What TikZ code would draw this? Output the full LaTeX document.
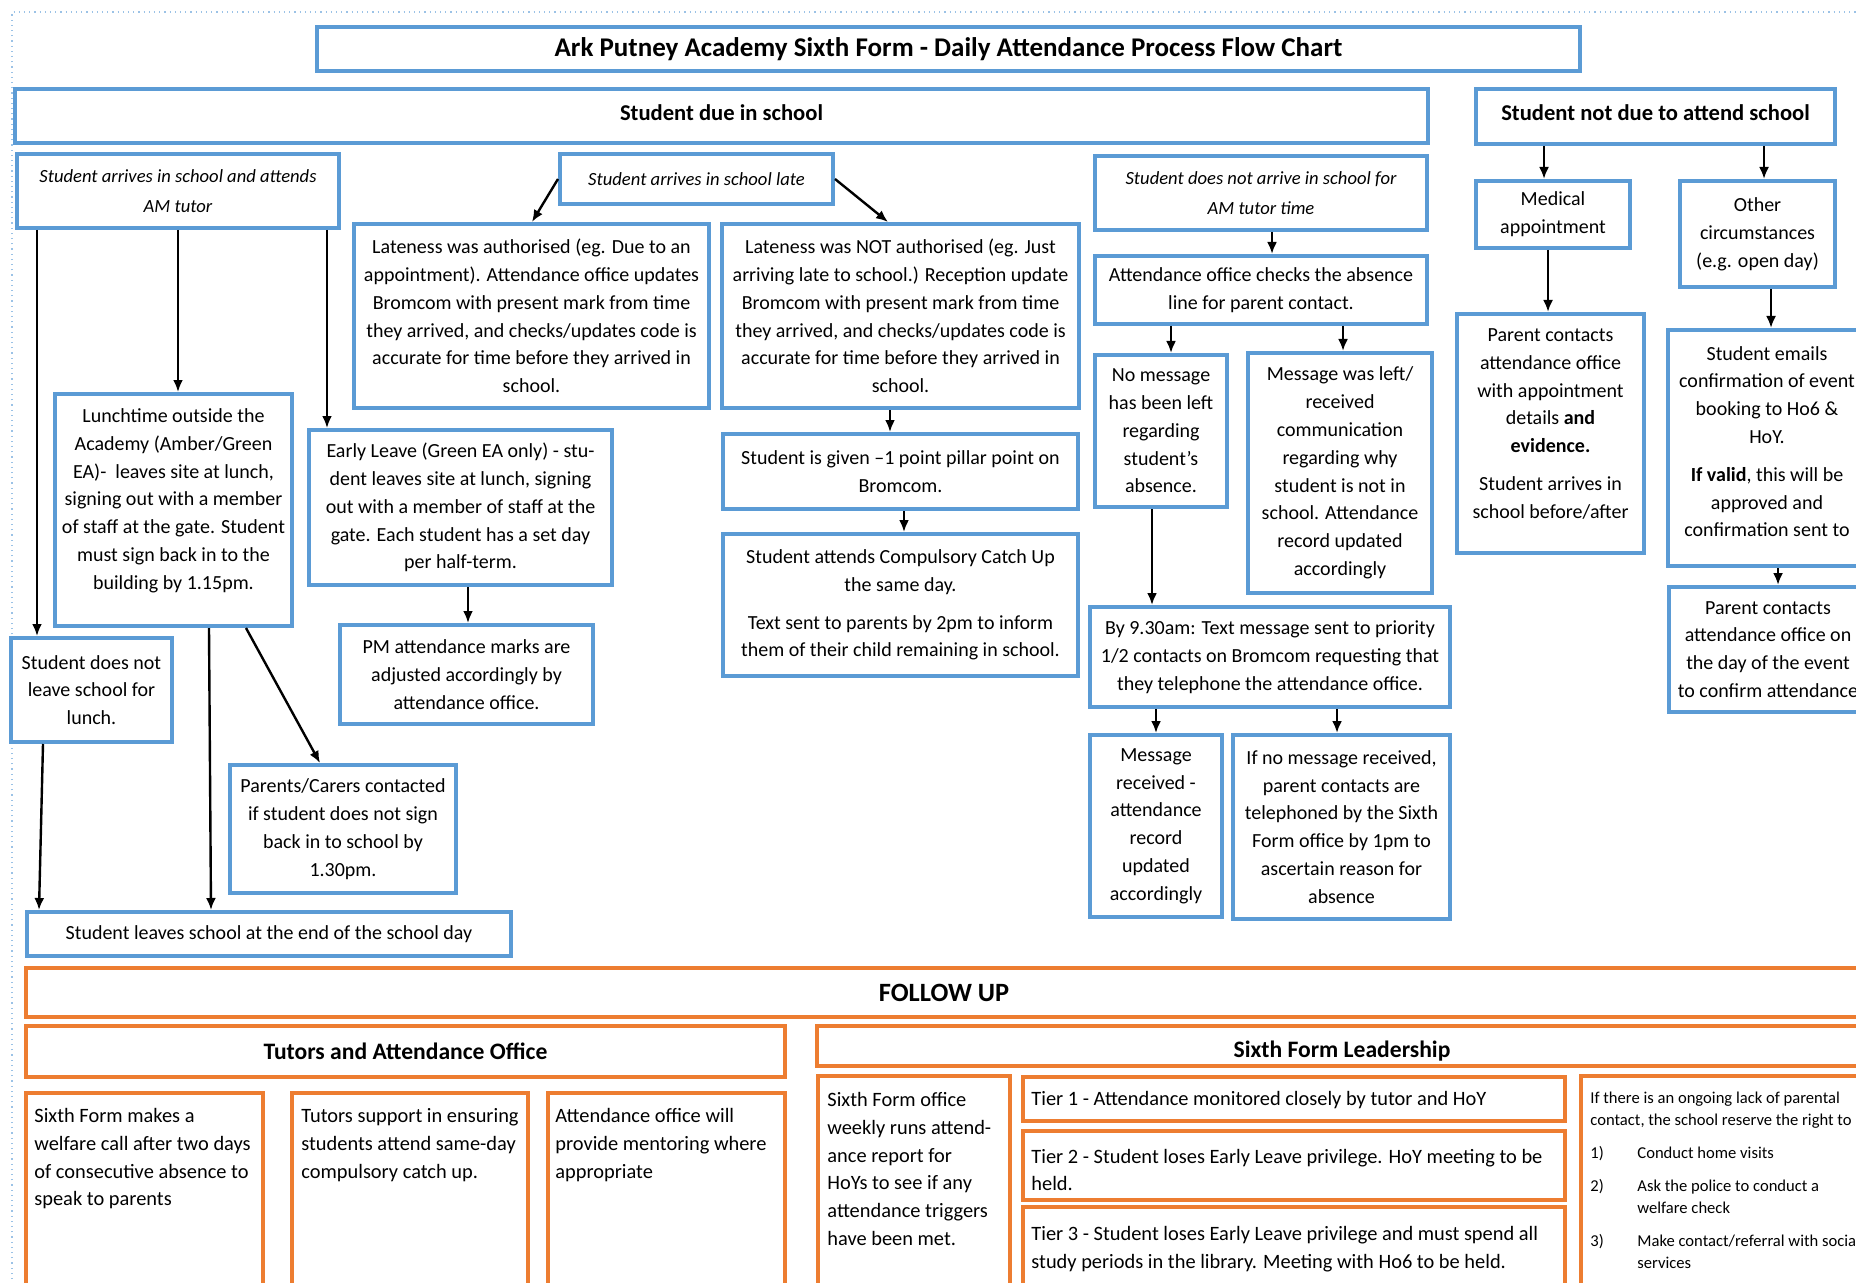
\documentclass[tikz,border=0pt]{standalone}
\usepackage{fontspec}
\setmainfont{Carlito}
\usetikzlibrary{arrows.meta}
\definecolor{bl}{RGB}{91,155,213}
\definecolor{og}{RGB}{237,125,49}
\definecolor{dotc}{RGB}{155,194,230}
\tikzset{
  bbox/.style={draw=bl, line width=2pt, inner sep=0pt, align=center, font=\fontsize{10}{13.9}\selectfont},
  ibox/.style={bbox, font=\fontsize{9.3}{14.8}\selectfont\itshape},
  hbox/.style={bbox, font=\fontsize{11.3}{13}\selectfont\bfseries},
  tbox/.style={bbox, font=\fontsize{13.5}{15}\selectfont\bfseries},
  obox/.style={draw=og, line width=2pt, inner sep=0pt, align=center, font=\fontsize{11.8}{13}\selectfont\bfseries},
  fbox/.style={obox, font=\fontsize{13.2}{14}\selectfont\bfseries},
  ftxt/.style={inner sep=0pt, align=left, font=\fontsize{10.2}{13.9}\selectfont},
  stxt/.style={inner sep=0pt, align=left, font=\fontsize{8.3}{11}\selectfont},
  arr/.style={-{Latex[length=6pt,width=5pt]}, line width=1.2pt, black},
}
\newcommand\boxnode[7]{%
  \pgfmathsetmacro\bxw{(#5-#3)*0.5}%
  \pgfmathsetmacro\bxh{(#6-#4)*0.5}%
  \node[#1, minimum width=\bxw pt, minimum height=\bxh pt] (#2) at ({(#3+#5)/2},{(#4+#6)/2}) {#7};}
\begin{document}
\begin{tikzpicture}[x=0.5pt,y=-0.5pt]
\useasboundingbox (0,0) rectangle (1856,1283);
\clip (0,0) rectangle (1856,1283);
\fill[white] (0,0) rectangle (1856,1283);
\draw[dotc, dotted, line width=0.6pt] (12,1300) -- (12,12) -- (1870,12);

% ---------- top section ----------
\boxnode{tbox}{title}{317}{27}{1580}{71}{Ark Putney Academy Sixth Form - Daily Attendance Process Flow Chart}
\boxnode{hbox}{due}{15}{89}{1428}{143}{Student due in school\rule[-3.5pt]{0pt}{0pt}}
\boxnode{hbox}{notdue}{1476}{89}{1835}{144}{Student not due to attend school\rule[-3.5pt]{0pt}{0pt}}

\boxnode{ibox}{am}{17}{154}{339}{228}{Student arrives in school and attends\\AM tutor}
\boxnode{ibox}{late}{560}{154}{833}{204}{Student arrives in school late}
\boxnode{ibox}{noarrive}{1095}{156}{1427}{230}{Student does not arrive in school for\\AM tutor time}

\boxnode{bbox}{auth}{354}{224}{709}{408}{Lateness was authorised (eg. Due to an\\appointment). Attendance office updates\\Bromcom with present mark from time\\they arrived, and checks/updates code is\\accurate for time before they arrived in\\school.}
\boxnode{bbox}{notauth}{722}{224}{1079}{408}{Lateness was NOT authorised (eg. Just\\arriving late to school.) Reception update\\Bromcom with present mark from time\\they arrived, and checks/updates code is\\accurate for time before they arrived in\\school.}
\boxnode{bbox}{checks}{1095}{256}{1427}{324}{Attendance office checks the absence\\line for parent contact.}

\boxnode{bbox}{medical}{1476}{181}{1630}{248}{Medical\\appointment}
\boxnode{bbox}{other}{1680}{181}{1835}{287}{Other\\circumstances\\(e.g. open day)}
\boxnode{bbox}{pcmed}{1457}{314}{1644}{553}{Parent contacts\\attendance office\\with appointment\\details \textbf{and}\\\textbf{evidence.}\\[5pt]Student arrives in\\school before/after\rule[-10pt]{0pt}{0pt}}
\boxnode{bbox}{emails}{1668}{330}{1866}{566}{Student emails\\confirmation of event\\booking to Ho6 \&\\HoY.\\[5pt]\textbf{If valid}, this will be\\approved and\\confirmation sent to\rule[-6.5pt]{0pt}{0pt}}
\boxnode{bbox}{pcday}{1669}{587}{1867}{712}{Parent contacts\\attendance office on\\the day of the event\\to confirm attendance}

\boxnode{bbox}{lunch}{55}{394}{292}{626}{Lunchtime outside the\\Academy (Amber/Green\\EA)-\ \ leaves site at lunch,\\signing out with a member\\of staff at the gate. Student\\must sign back in to the\\building by 1.15pm.\rule[-11pt]{0pt}{0pt}}
\boxnode{bbox}{early}{309}{430}{612}{585}{Early Leave (Green EA only) - stu-\\dent leaves site at lunch, signing\\out with a member of staff at the\\gate. Each student has a set day\\per half-term.}
\boxnode{bbox}{pm}{340}{625}{593}{724}{PM attendance marks are\\adjusted accordingly by\\attendance office.}
\boxnode{bbox}{noleave}{11}{638}{172}{742}{Student does not\\leave school for\\lunch.}
\boxnode{bbox}{parents}{230}{765}{456}{893}{Parents/Carers contacted\\if student does not sign\\back in to school by\\1.30pm.}
\boxnode{bbox}{leaves}{27}{912}{511}{956}{Student leaves school at the end of the school day}

\boxnode{bbox}{given}{723}{434}{1078}{509}{Student is given --1 point pillar point on\\Bromcom.}
\boxnode{bbox}{catchup}{723}{534}{1078}{676}{Student attends Compulsory Catch Up\\the same day.\\[5pt]Text sent to parents by 2pm to inform\\them of their child remaining in school.}

\boxnode{bbox}{nomsg}{1095}{355}{1227}{507}{No message\\has been left\\regarding\\student's\\absence.}
\boxnode{bbox}{msgleft}{1248}{353}{1432}{593}{Message was left/\\received\\communication\\regarding why\\student is not in\\school. Attendance\\record updated\\accordingly}
\boxnode{bbox}{sms}{1090}{607}{1450}{707}{By 9.30am: Text message sent to priority\\1/2 contacts on Bromcom requesting that\\they telephone the attendance office.}
\boxnode{bbox}{received}{1090}{735}{1222}{917}{Message\\received -\\attendance\\record\\updated\\accordingly}
\boxnode{bbox}{nomsgrec}{1233}{735}{1450}{919}{If no message received,\\parent contacts are\\telephoned by the Sixth\\Form office by 1pm to\\ascertain reason for\\absence}

% ---------- arrows ----------
\draw[arr] (am.south -| 37,0) -- (noleave.north -| 37,0);
\draw[arr] (am.south -| 178,0) -- (lunch.north -| 178,0);
\draw[arr] (am.south -| 327,0) -- (early.north -| 327,0);
\draw[arr] (late.west) -- (auth.north -| 532,0);
\draw[arr] (late.east) -- (notauth.north -| 888,0);
\draw[arr] (notauth.south -| 890,0) -- (given.north -| 890,0);
\draw[arr] (given.south -| 904,0) -- (catchup.north -| 904,0);
\draw[arr] (early.south -| 468,0) -- (pm.north -| 468,0);
\draw[arr] (lunch.south -| 209,0) -- (leaves.north -| 211,0);
\draw[arr] (lunch.south -| 246,0) -- (parents.north -| 320,0);
\draw[arr] (noleave.south -| 43,0) -- (leaves.north -| 39,0);
\draw[arr] (noarrive.south -| 1272,0) -- (checks.north -| 1272,0);
\draw[arr] (checks.south -| 1171,0) -- (nomsg.north -| 1171,0);
\draw[arr] (checks.south -| 1343,0) -- (msgleft.north -| 1343,0);
\draw[arr] (nomsg.south -| 1152,0) -- (sms.north -| 1152,0);
\draw[arr] (sms.south -| 1156,0) -- (received.north -| 1156,0);
\draw[arr] (sms.south -| 1337,0) -- (nomsgrec.north -| 1337,0);
\draw[arr] (notdue.south -| 1544,0) -- (medical.north -| 1544,0);
\draw[arr] (notdue.south -| 1764,0) -- (other.north -| 1764,0);
\draw[arr] (medical.south -| 1548,0) -- (pcmed.north -| 1548,0);
\draw[arr] (other.south -| 1771,0) -- (emails.north -| 1771,0);
\draw[arr] (emails.south -| 1778,0) -- (pcday.north -| 1778,0);

% ---------- follow up ----------
\boxnode{fbox}{followup}{26}{968}{1862}{1017}{FOLLOW UP}
\boxnode{obox}{tutors}{26}{1026}{785}{1077}{Tutors and Attendance Office}
\boxnode{obox}{leadership}{817}{1026}{1867}{1066}{\rule{0pt}{13pt}Sixth Form Leadership}

\boxnode{obox}{welfare}{26}{1093}{263}{1320}{}
\boxnode{obox}{support}{292}{1093}{528}{1320}{}
\boxnode{obox}{mentor}{548}{1093}{785}{1320}{}
\boxnode{obox}{office}{818}{1076}{1010}{1320}{}
\boxnode{obox}{tierA}{1023}{1077}{1565}{1121}{}
\boxnode{obox}{tierB}{1023}{1131}{1565}{1200}{}
\boxnode{obox}{tierC}{1023}{1207}{1565}{1320}{}
\boxnode{obox}{lack}{1581}{1076}{1920}{1320}{}

\node[ftxt, anchor=north west] (welfare-t) at (34,1108) {Sixth Form makes a\\welfare call after two days\\of consecutive absence to\\speak to parents};
\node[ftxt, anchor=north west] (support-t) at (301,1108) {Tutors support in ensuring\\students attend same-day\\compulsory catch up.};
\node[ftxt, anchor=north west] (mentor-t) at (555,1108) {Attendance office will\\provide mentoring where\\appropriate};
\node[ftxt, anchor=north west] (office-t) at (827,1092) {Sixth Form office\\weekly runs attend-\\ance report for\\HoYs to see if any\\attendance triggers\\have been met.};
\node[ftxt, anchor=west] (tierA-t) at (1031,1100) {Tier 1 - Attendance monitored closely by tutor and HoY};
\node[ftxt, anchor=west] (tierB-t) at (1031,1170) {Tier 2 - Student loses Early Leave privilege. HoY meeting to be\\held.};
\node[ftxt, anchor=north west] (tierC-t) at (1031,1226) {Tier 3 - Student loses Early Leave privilege and must spend all\\study periods in the library. Meeting with Ho6 to be held.};
\node[stxt, anchor=north west] (lack-t) at (1590,1092) {If there is an ongoing lack of parental\\contact, the school reserve the right to\\[5.5pt]\makebox[23.5pt][l]{1)}Conduct home visits\\[5.5pt]\makebox[23.5pt][l]{2)}Ask the police to conduct a\\\hspace*{23.5pt}welfare check\\[5.5pt]\makebox[23.5pt][l]{3)}Make contact/referral with social\\\hspace*{23.5pt}services};
\end{tikzpicture}
\end{document}
